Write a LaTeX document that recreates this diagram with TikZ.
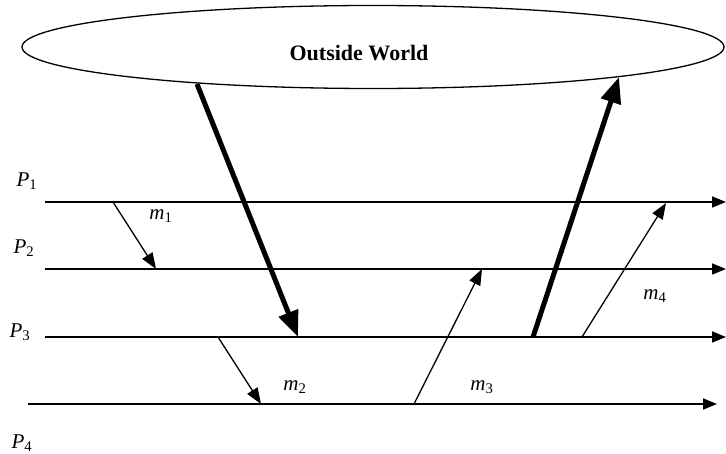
\documentclass[tikz,border=0pt]{standalone}
\usepackage{fontspec}
\setmainfont{Liberation Serif}
\usetikzlibrary{arrows.meta,shapes.geometric}
\begin{document}
\begin{tikzpicture}[x=1pt,y=-1pt,
  lbl/.style={inner sep=0pt,font=\fontsize{21}{24}\selectfont\itshape},
  timeline/.style={line width=1.7pt,-{Triangle[length=14pt,width=11pt]}},
  msg/.style={line width=1.3pt,-{Triangle[length=16pt,width=12pt]}},
  big/.style={line width=5pt,-{Triangle[length=26pt,width=20pt]}}]
\useasboundingbox (0,0) rectangle (726,454);
% outside world
\node[draw,ellipse,line width=1.3pt,minimum width=702pt,minimum height=83pt,inner sep=0pt] (world) at (373,47) {};
\node[inner sep=0pt,font=\fontsize{22}{26}\selectfont\bfseries] (title) at (359,53) {Outside World};
% process lines
\coordinate (p1s) at (45,202);  \coordinate (p1e) at (726,202);
\coordinate (p2s) at (45,269);  \coordinate (p2e) at (726,269);
\coordinate (p3s) at (45,337);  \coordinate (p3e) at (726,337);
\coordinate (p4s) at (28,404);  \coordinate (p4e) at (717,404);
\draw[timeline] (p1s) -- (p1e);
\draw[timeline] (p2s) -- (p2e);
\draw[timeline] (p3s) -- (p3e);
\draw[timeline] (p4s) -- (p4e);
% process labels
\node[lbl] (P1) at (27,181) {P\textsubscript{\upshape 1}};
\node[lbl] (P2) at (24,248) {P\textsubscript{\upshape 2}};
\node[lbl] (P3) at (20,332) {P\textsubscript{\upshape 3}};
\node[lbl] (P4) at (22,443) {P\textsubscript{\upshape 4}};
% messages
\coordinate (m1s) at (113,202); \coordinate (m1e) at (156,269);
\coordinate (m2s) at (218,337); \coordinate (m2e) at (261,404);
\coordinate (m3s) at (414,404); \coordinate (m3e) at (482,269);
\coordinate (m4s) at (582,337); \coordinate (m4e) at (666,203);
\draw[msg] (m1s) -- (m1e);
\draw[msg] (m2s) -- (m2e);
\draw[msg] (m3s) -- (m3e);
\draw[msg] (m4s) -- (m4e);
\node[lbl] (m1) at (161,216) {m\textsubscript{\upshape 1}};
\node[lbl] (m2) at (295,387) {m\textsubscript{\upshape 2}};
\node[lbl] (m3) at (482,387) {m\textsubscript{\upshape 3}};
\node[lbl] (m4) at (655,296) {m\textsubscript{\upshape 4}};
% input / output with outside world
\coordinate (in1) at (197,84);  \coordinate (in2) at (298,337);
\coordinate (out1) at (533,337); \coordinate (out2) at (619,77);
\draw[big] (in1) -- (in2);
\draw[big] (out1) -- (out2);
\end{tikzpicture}
\end{document}
